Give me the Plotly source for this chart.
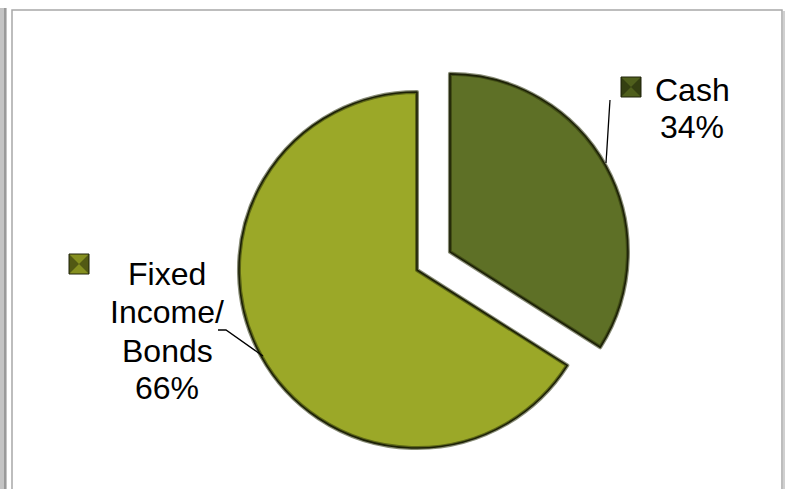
import plotly.graph_objects as go

# ---- data ----
labels = ["Cash", "Fixed Income/ Bonds"]
values = [34, 66]
label_lines = [["Cash"], ["Fixed", "Income/", "Bonds"]]
slice_colors = ["#5e7026", "#9ba828"]
key_colors = ["#4f5f1c", "#858f1f"]

W, H = 788, 489


def px(x):
    return x / W


def py(y):
    return 1 - y / H


total = sum(values)
pcts = [f"{round(v * 100 / total)}%" for v in values]

domain = dict(x=[px(201.4), px(632.6)], y=[py(485.6), py(54.4)])
common = dict(labels=labels, values=values, sort=False, direction="clockwise",
              rotation=0, pull=[0.211, 0], textinfo="none", domain=domain,
              showlegend=False)

fig = go.Figure()
fig.add_trace(go.Pie(
    **common,
    hoverinfo="label+percent",
    marker=dict(colors=slice_colors, line=dict(color="rgba(40,48,8,0.55)", width=4)),
))
fig.add_trace(go.Pie(
    **common,
    hoverinfo="skip",
    marker=dict(colors=["rgba(0,0,0,0)", "rgba(0,0,0,0)"],
                line=dict(color="#1c2006", width=1.6)),
))

# label layout (pixel positions of text centres / baselines)
label_pos = [
    dict(cx=692, baselines=[101, 138], key=(621, 77)),
    dict(cx=167, baselines=[285, 323, 362, 399], key=(69, 254)),
]

annotations = []
shapes = []
fs = 32
for i, pos in enumerate(label_pos):
    lines = label_lines[i] + [pcts[i]]
    for ln, bl in zip(lines, pos["baselines"]):
        annotations.append(
            dict(
                x=px(pos["cx"]), y=py(bl - 0.35 * fs), xref="paper", yref="paper",
                text=ln, showarrow=False, xanchor="center", yanchor="middle",
                font=dict(family="Liberation Sans, Arial, sans-serif", size=fs, color="#000000"),
            )
        )
    kx, ky = pos["key"]
    s = 20
    shapes.append(dict(type="rect", xref="paper", yref="paper",
                       x0=px(kx), x1=px(kx + s), y0=py(ky + s), y1=py(ky),
                       fillcolor=key_colors[i], line=dict(color="#20240a", width=1)))
    # bevel triangles (left / right darker)
    cxk, cyk = kx + s / 2, ky + s / 2
    for tri in [[(kx, ky), (cxk, cyk), (kx, ky + s)], [(kx + s, ky), (cxk, cyk), (kx + s, ky + s)]]:
        path = "M " + " L ".join(f"{px(a)},{py(b)}" for a, b in tri) + " Z"
        shapes.append(dict(type="path", xref="paper", yref="paper", path=path,
                           fillcolor="rgba(20,25,5,0.45)", line=dict(width=0)))

# leader lines
leader_paths = [
    [(610, 100), (606, 163)],
    [(218, 330), (226, 330), (263, 356)],
]
for pts in leader_paths:
    path = "M " + " L ".join(f"{px(a)},{py(b)}" for a, b in pts)
    shapes.append(dict(type="path", xref="paper", yref="paper", path=path,
                       line=dict(color="#000000", width=1.3)))

# frame and shadows
shapes.append(dict(type="rect", xref="paper", yref="paper", x0=0, x1=px(7), y0=0, y1=py(8),
                   fillcolor="#c4c4c4", line=dict(width=0), layer="below"))
shapes.append(dict(type="line", xref="paper", yref="paper", x0=px(5), x1=px(5), y0=0, y1=py(8),
                   line=dict(color="#9a9a9a", width=2), layer="below"))
shapes.append(dict(type="line", xref="paper", yref="paper", x0=px(784), x1=px(784), y0=0, y1=py(11),
                   line=dict(color="#d0d0d0", width=2), layer="below"))
shapes.append(dict(type="rect", xref="paper", yref="paper", x0=px(12), x1=px(782), y0=-0.05, y1=py(10),
                   line=dict(color="#a8a8a8", width=1.5), fillcolor="rgba(0,0,0,0)", layer="below"))

fig.update_layout(
    width=W, height=H,
    margin=dict(l=0, r=0, t=0, b=0),
    paper_bgcolor="#ffffff",
    plot_bgcolor="#ffffff",
    annotations=annotations,
    shapes=shapes,
    showlegend=False,
)

fig.write_html("out.html")
